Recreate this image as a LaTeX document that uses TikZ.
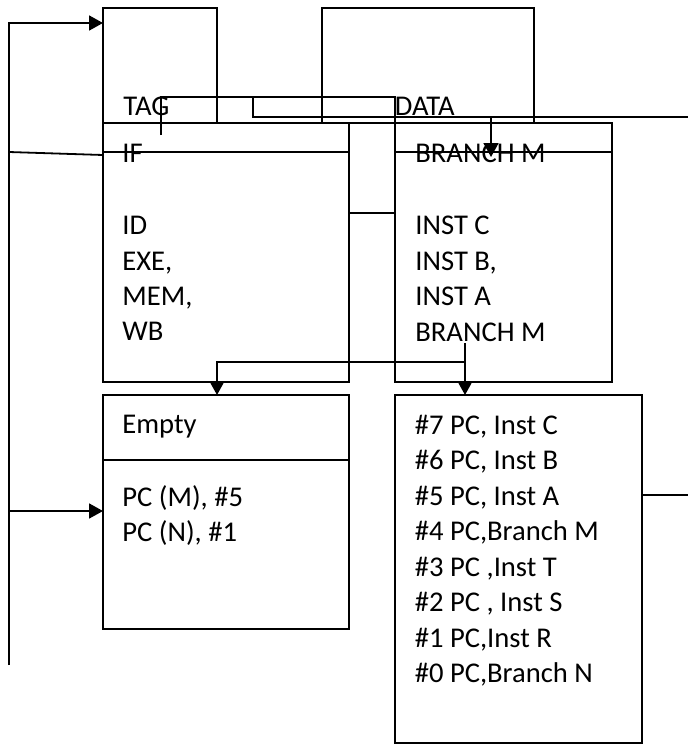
\documentclass[tikz,border=0pt]{standalone}
\usepackage{fontspec}
\setmainfont{Carlito}
\usetikzlibrary{arrows.meta}

\begin{document}
\begin{tikzpicture}[
  x=0.5pt, y=-0.5pt, line width=0.9pt,
  box/.style={draw, anchor=north west, inner sep=0pt, outer sep=0pt},
  txt/.style={anchor=base west, inner sep=0pt, font=\fontsize{14.3}{17}\selectfont},
  arr/.style={-{Triangle[length=7pt,width=7.5pt]}}
]
\useasboundingbox (0,0) rectangle (688,744);
% cache blocks
\node[box, minimum width=57pt, minimum height=57.5pt] (tagbox) at (103,8) {};
\node[box, minimum width=106pt, minimum height=57.5pt] (databox) at (322,8) {};
\node[box, minimum width=123pt, minimum height=129.5pt] (ifbox) at (103,123) {};
\node[box, minimum width=108.5pt, minimum height=129.5pt] (brbox) at (395,123) {};
\node[box, minimum width=123pt, minimum height=117pt] (emptybox) at (103,395) {};
\node[box, minimum width=123.5pt, minimum height=174pt] (pcbox) at (395,395) {};
\draw ([yshift=-14.5pt]ifbox.north west) -- ([yshift=-14.5pt]ifbox.north east);
\draw ([yshift=-14.5pt]brbox.north west) -- ([yshift=-14.5pt]brbox.north east);
\draw ([yshift=-32.5pt]emptybox.north west) -- ([yshift=-32.5pt]emptybox.north east);

% labels
\node[txt] (tagtxt) at (122.5,115.7) {TAG};
\node[txt] (datatxt) at (394,115) {DATA};
\node[txt] (iftxt) at (121.5,162) {IF};
\node[txt] (brtxt) at (414.5,162) {BRANCH M};
\node[txt] (id) at (121.5,234) {ID};
\node[txt] (exe) at (121.5,270) {EXE,};
\node[txt] (mem) at (121.5,305.7) {MEM,};
\node[txt] (wb) at (121.5,340.7) {WB};
\node[txt] (instc) at (414.5,234) {INST C};
\node[txt] (instb) at (414.5,270) {INST B,};
\node[txt] (insta) at (414.5,305.7) {INST A};
\node[txt] (brm) at (414.5,341) {BRANCH M};
\node[txt] (empty) at (121.5,433.3) {Empty};
\node[txt] (pcm) at (121.5,506) {PC (M), \#5};
\node[txt] (pcn) at (121.5,541) {PC (N), \#1};
\node[txt] (e7) at (414,434) {\#7 PC, Inst C};
\node[txt] (e6) at (414,469.5) {\#6 PC, Inst B};
\node[txt] (e5) at (414,505) {\#5 PC, Inst A};
\node[txt] (e4) at (414,540.5) {\#4 PC,Branch M};
\node[txt] (e3) at (414,576) {\#3 PC ,Inst T};
\node[txt] (e2) at (414,611.5) {\#2 PC , Inst S};
\node[txt] (e1) at (414,647) {\#1 PC,Inst R};
\node[txt] (e0) at (414,682.5) {\#0 PC,Branch N};

% wires
\coordinate (bustop) at (9,23);
\coordinate (busbot) at (9,665);
\coordinate (busif) at (9,152);
\coordinate (busempty) at (9,511);
\coordinate (tagtap) at (161,135);
\coordinate (tagtop) at (161,97);
\coordinate (dtap) at (253,97);
\coordinate (rtop) at (688,117);
\coordinate (brtap) at (491,117);
\coordinate (brin) at (491,157);
\coordinate (brout) at (465,343);
\coordinate (split) at (465,362);
\coordinate (rbot) at (688,495);

\draw[arr] (busbot) -- (bustop) -- (bustop -| tagbox.west);
\draw (busif) -- ([yshift=-16pt]ifbox.north west);
\draw[arr] (busempty) -- (busempty -| emptybox.west);
\draw (tagtap) -- (tagtop) -| (brbox.north west);
\draw (dtap) |- (rtop);
\draw[arr] (brtap) -- (brin);
\draw ([yshift=-45pt]ifbox.north east) -- ([yshift=-45pt]brbox.north west);
\draw[arr] (brout) -- (brout |- pcbox.north);
\draw[arr] (split) -| ([xshift=-4.5pt]emptybox.north);
\draw (pcbox.east |- rbot) -- (rbot);
\end{tikzpicture}
\end{document}
